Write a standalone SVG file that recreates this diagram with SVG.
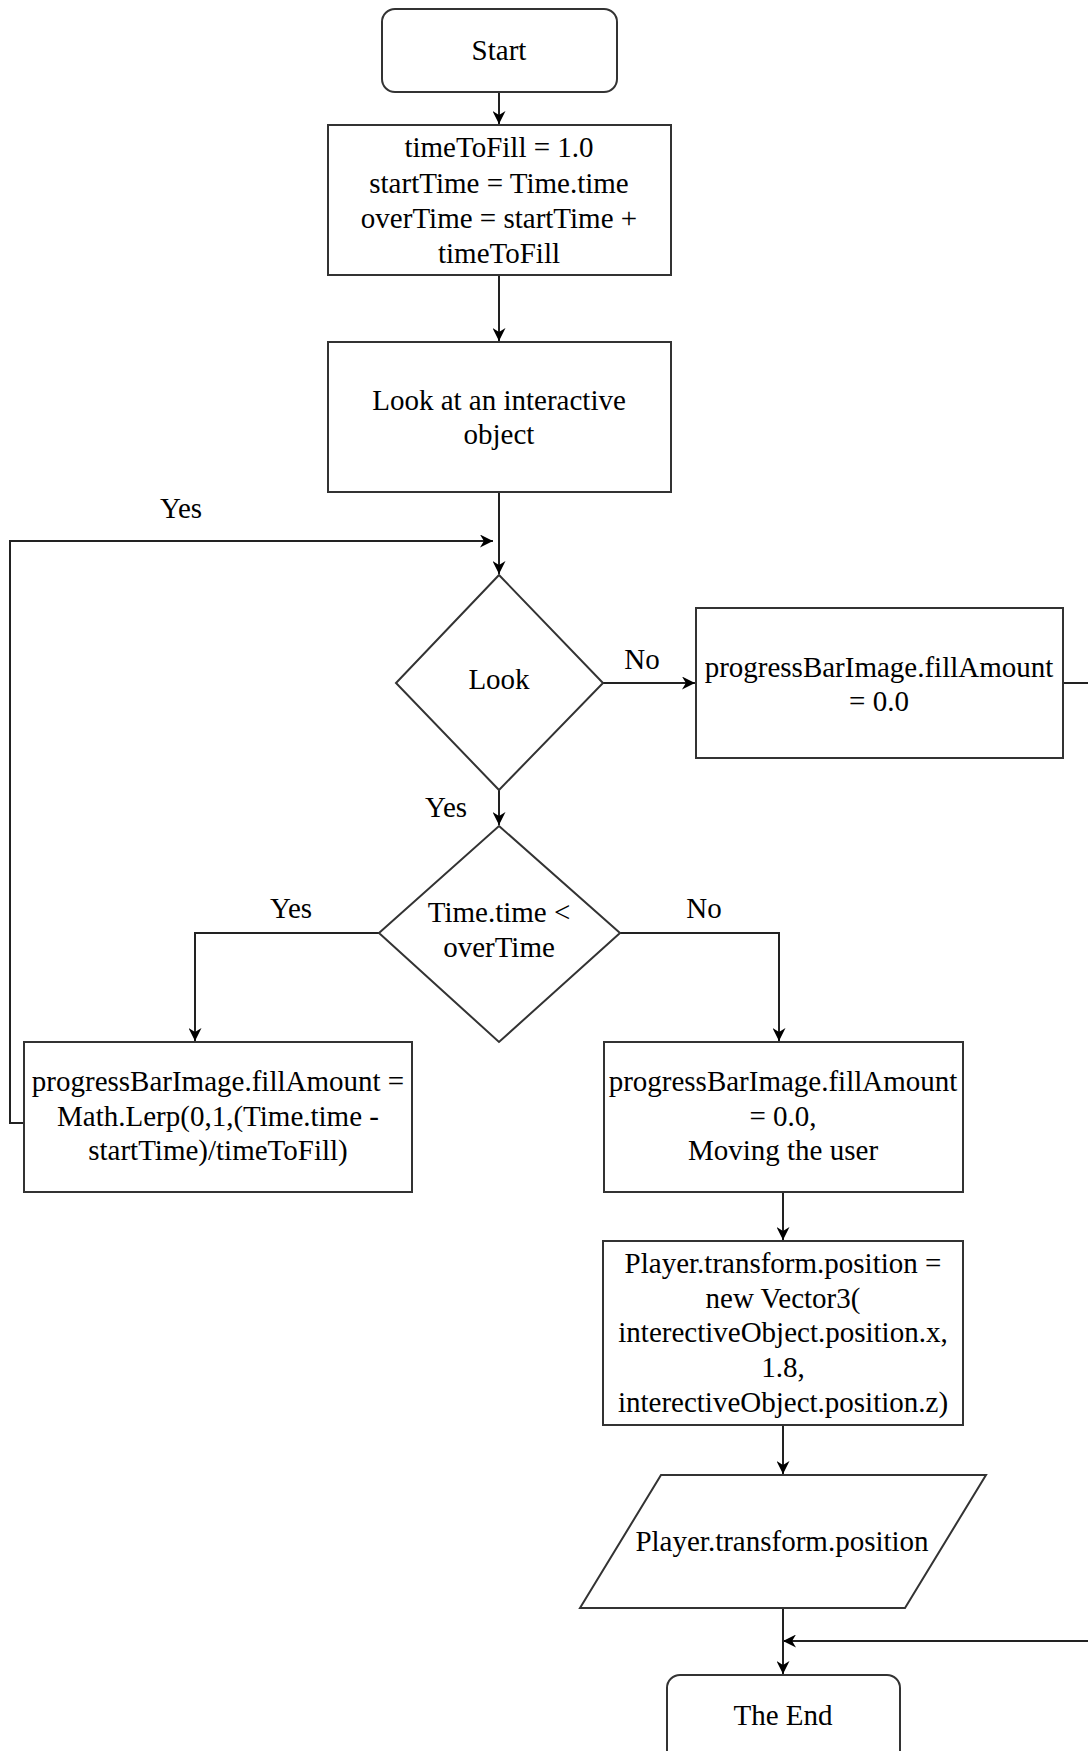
<svg xmlns="http://www.w3.org/2000/svg" width="1088" height="1751" viewBox="0 0 1088 1751">
<style>
.shape{fill:#fff;stroke:#333;stroke-width:2}
.t{font-family:"Liberation Serif","Times New Roman",serif;font-size:29px;fill:#000;text-anchor:middle}
.c{fill:none;stroke:#222;stroke-width:2}
</style>
<defs>
<marker id="ah" viewBox="0 0 10 10" refX="10" refY="5" markerWidth="13" markerHeight="13" markerUnits="userSpaceOnUse" orient="auto">
<path d="M0,0 L10,5 L0,10 L3,5 Z" fill="#000"/>
</marker>
</defs>
<rect width="1088" height="1751" fill="#fff"/>
<g id="connectors">
<path class="c" d="M499,92 V124" marker-end="url(#ah)"/>
<path class="c" d="M499,275 V341" marker-end="url(#ah)"/>
<path class="c" d="M499,492 V574" marker-end="url(#ah)"/>
<path class="c" d="M23,1123 H10 V541 H493" marker-end="url(#ah)"/>
<path class="c" d="M603,683 H695" marker-end="url(#ah)"/>
<path class="c" d="M1063,683 H1100 V1641 H783" marker-end="url(#ah)"/>
<path class="c" d="M499,790 V825" marker-end="url(#ah)"/>
<path class="c" d="M379,933 H195 V1041" marker-end="url(#ah)"/>
<path class="c" d="M620,933 H779 V1041" marker-end="url(#ah)"/>
<path class="c" d="M783,1192 V1240" marker-end="url(#ah)"/>
<path class="c" d="M783,1425 V1474" marker-end="url(#ah)"/>
<path class="c" d="M783,1608 V1674" marker-end="url(#ah)"/>
<text class="t" x="181" y="518">Yes</text>
<text class="t" x="642" y="669">No</text>
<text class="t" x="446" y="817">Yes</text>
<text class="t" x="291" y="918">Yes</text>
<text class="t" x="704" y="918">No</text>
</g>
<g id="start">
<rect class="shape" x="382" y="9" width="235" height="83" rx="13"/>
<text class="t" x="499" y="60">Start</text>
</g>
<g id="init">
<rect class="shape" x="328" y="125" width="343" height="150"/>
<text class="t" x="499" y="157">timeToFill = 1.0</text>
<text class="t" x="499" y="193">startTime = Time.time</text>
<text class="t" x="499" y="228">overTime = startTime +</text>
<text class="t" x="499" y="263">timeToFill</text>
</g>
<g id="look-at">
<rect class="shape" x="328" y="342" width="343" height="150"/>
<text class="t" x="499" y="410">Look at an interactive</text>
<text class="t" x="499" y="444">object</text>
</g>
<g id="look">
<path class="shape" d="M499,575 L603,683 L499,790 L396,683 Z"/>
<text class="t" x="499" y="689">Look</text>
</g>
<g id="reset">
<rect class="shape" x="696" y="608" width="367" height="150"/>
<text class="t" x="879" y="677">progressBarImage.fillAmount</text>
<text class="t" x="879" y="711">= 0.0</text>
</g>
<g id="time-check">
<path class="shape" d="M499,826 L620,933 L499,1042 L379,933 Z"/>
<text class="t" x="499" y="922">Time.time &lt;</text>
<text class="t" x="499" y="957">overTime</text>
</g>
<g id="lerp">
<rect class="shape" x="24" y="1042" width="388" height="150"/>
<text class="t" x="218" y="1091">progressBarImage.fillAmount =</text>
<text class="t" x="218" y="1126">Math.Lerp(0,1,(Time.time -</text>
<text class="t" x="218" y="1160">startTime)/timeToFill)</text>
</g>
<g id="move">
<rect class="shape" x="604" y="1042" width="359" height="150"/>
<text class="t" x="783" y="1091">progressBarImage.fillAmount</text>
<text class="t" x="783" y="1126">= 0.0,</text>
<text class="t" x="783" y="1160">Moving the user</text>
</g>
<g id="player-set">
<rect class="shape" x="603" y="1241" width="360" height="184"/>
<text class="t" x="783" y="1273">Player.transform.position =</text>
<text class="t" x="783" y="1308">new Vector3(</text>
<text class="t" x="783" y="1342">interectiveObject.position.x,</text>
<text class="t" x="783" y="1377">1.8,</text>
<text class="t" x="783" y="1412">interectiveObject.position.z)</text>
</g>
<g id="output">
<path class="shape" d="M661,1475 L986,1475 L905,1608 L580,1608 Z"/>
<text class="t" x="782" y="1551">Player.transform.position</text>
</g>
<g id="end">
<rect class="shape" x="667" y="1675" width="233" height="100" rx="13"/>
<text class="t" x="783" y="1725">The End</text>
</g>
</svg>
